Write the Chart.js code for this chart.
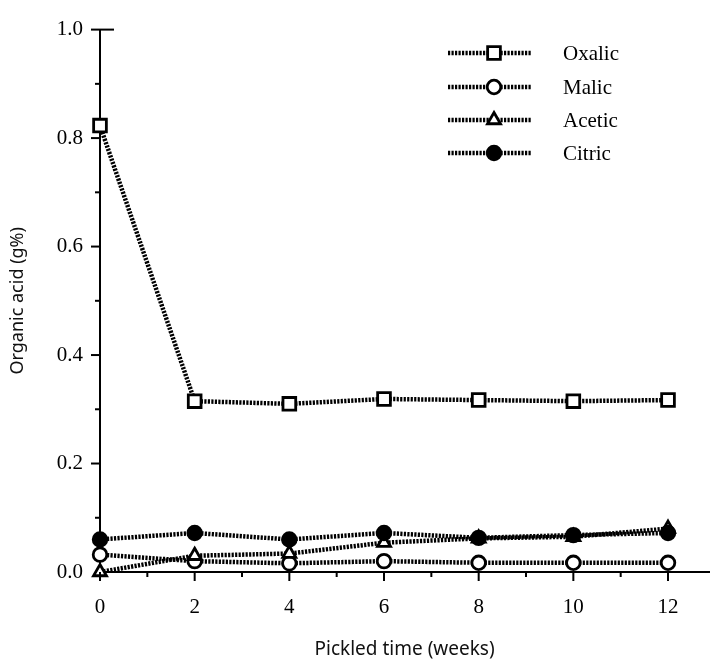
<!DOCTYPE html>
<html>
<head>
<meta charset="utf-8">
<script src="https://cdn.jsdelivr.net/npm/chart.js@4"></script>
<style>
  html, body { margin: 0; padding: 0; background: #fff; }
  #wrap { width: 721px; height: 661px; }
</style>
</head>
<body>
<div id="wrap"><canvas id="grafico" width="721" height="661"></canvas></div>
<script>
const weeks = [0, 2, 4, 6, 8, 10, 12];
const oxalic = [0.823, 0.315, 0.310, 0.319, 0.317, 0.315, 0.317];
const malic = [0.032, 0.020, 0.016, 0.020, 0.017, 0.017, 0.017];
const acetic = [0.0, 0.030, 0.034, 0.054, 0.062, 0.065, 0.080];
const citric = [0.060, 0.072, 0.060, 0.072, 0.063, 0.068, 0.072];
const seriesNames = ['Oxalic', 'Malic', 'Acetic', 'Citric'];
const yTicks = [0, 0.2, 0.4, 0.6, 0.8, 1.0];
const xTicks = [0, 2, 4, 6, 8, 10, 12];

function pts(vals) {
  return weeks.map((w, i) => ({ x: w, y: vals[i] }));
}

function serie(label, vals, style, fill, radius, order) {
  return {
    label: label,
    data: pts(vals),
    borderColor: '#000',
    borderWidth: 4.5,
    borderDash: [2.2, 1.3],
    pointStyle: style,
    pointRadius: radius,
    pointBackgroundColor: fill,
    pointBorderColor: '#000',
    pointBorderWidth: 2.8,
    tension: 0,
    clip: false,
    order: order,
  };
}

// tick marks (long at labelled values, short in between) and the legend
const marcas = {
  id: 'marcas',
  afterDraw(chart) {
    const ctx = chart.ctx;
    const xs = chart.scales.x;
    const ys = chart.scales.y;
    const a = chart.chartArea;
    ctx.save();
    ctx.strokeStyle = '#000';
    ctx.lineWidth = 2;
    for (let w = 0; w <= 12; w++) {
      const px = xs.getPixelForValue(w);
      const len = w % 2 === 0 ? 9 : 5;
      ctx.beginPath();
      ctx.moveTo(px, a.bottom);
      ctx.lineTo(px, a.bottom + len);
      ctx.stroke();
    }
    for (let k = 1; k <= 10; k++) {
      const py = ys.getPixelForValue(k / 10);
      const len = k % 2 === 0 ? 9 : 5;
      ctx.beginPath();
      ctx.moveTo(a.left - len, py);
      ctx.lineTo(k === 10 ? a.left + 14 : a.left, py);
      ctx.stroke();
    }

    // legend
    const rows = [53, 87, 120, 153];
    ctx.font = '21px "Liberation Serif", serif';
    ctx.textBaseline = 'middle';
    ctx.textAlign = 'left';
    rows.forEach((y, idx) => {
      const ds = chart.data.datasets[idx];
      ctx.save();
      ctx.setLineDash([2.2, 1.3]);
      ctx.lineWidth = 4.5;
      ctx.beginPath();
      ctx.moveTo(448, y);
      ctx.lineTo(532, y);
      ctx.stroke();
      ctx.restore();
      ctx.fillStyle = ds.pointBackgroundColor;
      ctx.strokeStyle = '#000';
      ctx.lineWidth = 2.8;
      Chart.helpers.drawPoint(ctx, {
        pointStyle: ds.pointStyle,
        radius: ds.pointRadius,
        rotation: 0,
        borderWidth: 2.8,
      }, 494, y);
      ctx.fillStyle = '#000';
      ctx.fillText(ds.label, 563, y + 1);
    });
    ctx.restore();
  },
};

function configurar() {
  const canvas = document.getElementById('grafico');
  new Chart(canvas, {
    type: 'line',
    data: {
      datasets: [
        serie(seriesNames[0], oxalic, 'rect', '#fff', 9, 3),
        serie(seriesNames[1], malic, 'circle', '#fff', 6.8, 2),
        serie(seriesNames[2], acetic, 'triangle', '#fff', 7.5, 1),
        serie(seriesNames[3], citric, 'circle', '#000', 6.8, 0),
      ],
    },
    options: {
      responsive: false,
      animation: false,
      layout: { padding: { top: 14, right: 0, left: 0, bottom: 0 } },
      plugins: {
        legend: { display: false },
        tooltip: { enabled: false },
      },
      scales: {
        x: {
          type: 'linear',
          min: 0,
          max: 12.87,
          grid: { display: false, drawTicks: false },
          border: { display: true, color: '#000', width: 2 },
          afterBuildTicks: (s) => {
            s.ticks = [];
            for (let w = 0; w <= 12; w++) s.ticks.push({ value: w });
          },
          afterFit: (s) => { s.height = 89; },
          ticks: {
            autoSkip: false,
            maxRotation: 0,
            padding: 23,
            color: '#000',
            font: { family: '"Liberation Serif", serif', size: 21 },
            callback: (v) => (xTicks.includes(v) ? String(v) : ''),
          },
          title: {
            display: true,
            text: 'Pickled time (weeks)',
            color: '#111',
            font: { family: '"Noto Sans", sans-serif', size: 19 },
            padding: { top: 10, bottom: 0 },
          },
        },
        y: {
          min: 0,
          max: 1,
          grid: { display: false, drawTicks: false },
          border: { display: true, color: '#000', width: 2 },
          afterFit: (s) => { s.width = 100; },
          ticks: {
            stepSize: 0.1,
            autoSkip: false,
            padding: 17,
            color: '#000',
            font: { family: '"Liberation Serif", serif', size: 21 },
            callback: (v) => {
              const hit = yTicks.find((t) => Math.abs(t - v) < 1e-6);
              return hit === undefined ? '' : hit.toFixed(1);
            },
          },
          title: {
            display: true,
            text: 'Organic acid (g%)',
            color: '#111',
            font: { family: '"Noto Sans", sans-serif', size: 18 },
            padding: { top: 7, bottom: 10 },
          },
        },
      },
    },
    plugins: [marcas],
  });
}

document.addEventListener('DOMContentLoaded', configurar);
</script>
</body>
</html>
